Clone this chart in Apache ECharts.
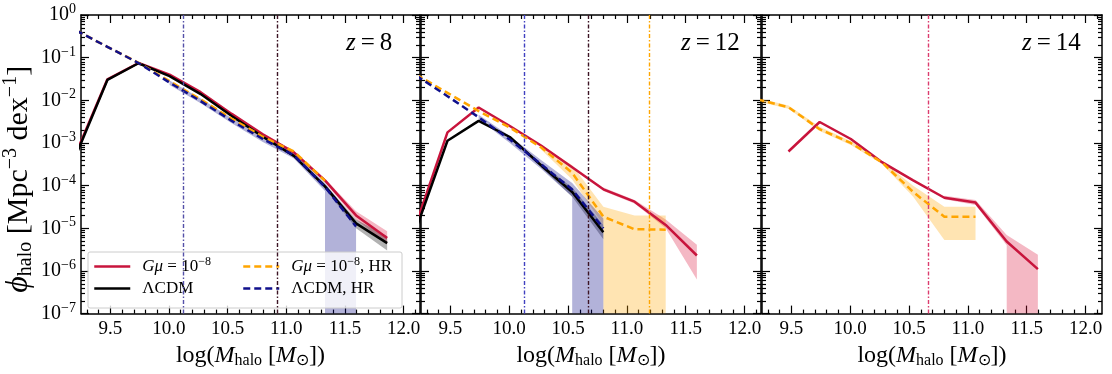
<!DOCTYPE html>
<html>
<head>
<meta charset="utf-8">
<script src="https://cdn.jsdelivr.net/npm/echarts@6/dist/echarts.min.js"></script>
<style>
html, body { margin: 0; padding: 0; background: #fff; }
#main { width: 1112px; height: 374px; }
</style>
</head>
<body>
<div id="main"></div>
<script>
// halo mass bins, log(M_halo [M_sun])
var bins = [9.21, 9.475, 9.74, 10.005, 10.27, 10.535, 10.80, 11.065, 11.33, 11.595, 11.86];

// z = 8
var gmu8      = [6.0e-4, 0.031, 0.075, 0.040, 0.0155, 0.0048, 0.0016, 6.0e-4, 1.33e-4, 2.0e-5, 5.9e-6];
var lcdm8     = [5.4e-4, 0.030, 0.074, 0.037, 0.0140, 0.0043, 0.0014, 5.0e-4, 9.6e-5, 1.3e-5, 4.5e-6];
var gmuHR8    = [0.43, 0.18, 0.076, 0.028, 0.0105, 0.0037, 0.0014, 6.3e-4, 1.3e-4, null, null];
var lcdmHR8   = [0.43, 0.18, 0.075, 0.026, 0.0096, 0.0033, 0.00124, 5.1e-4, 9.3e-5, 1.1e-5, null];
var gmu8Lo    = [null, null, null, null, null, null, 1.5e-3, 5.5e-4, 1.2e-4, 1.6e-5, 4.3e-6];
var gmu8Hi    = [null, null, null, null, null, null, 1.7e-3, 6.5e-4, 1.45e-4, 2.5e-5, 8.5e-6];
var lcdm8Lo   = [null, null, null, null, null, null, 1.3e-3, 4.6e-4, 8.5e-5, 1.0e-5, 3.0e-6];
var lcdm8Hi   = [null, null, null, null, null, null, 1.5e-3, 5.4e-4, 1.08e-4, 1.6e-5, 6.5e-6];
var lcdmHR8Lo = [null, null, null, 0.023, 8.5e-3, 2.9e-3, 1.05e-3, 4.3e-4, 7.5e-5, 0, null];
var lcdmHR8Hi = [null, null, null, 0.029, 0.011, 3.8e-3, 1.45e-3, 6.0e-4, 1.15e-4, 1.4e-5, null];
var vlines8   = [10.12, 10.92];

// z = 12
var gmu12      = [1.3e-5, 1.77e-3, 6.8e-3, 2.5e-3, 8.7e-4, 2.7e-4, 8.2e-5, 4.2e-5, 1.2e-5, 2.3e-6, null];
var lcdm12     = [1.0e-5, 1.13e-3, 3.3e-3, 1.38e-3, 3.0e-4, 7.1e-5, 8.1e-6, null, null, null, null];
var gmuHR12    = [0.040, 0.015, 5.6e-3, 2.3e-3, 7.9e-4, 2.0e-4, 1.87e-5, 9.5e-6, 9.3e-6, null, null];
var lcdmHR12   = [0.038, 0.0125, 4.0e-3, 1.2e-3, 3.2e-4, 8.1e-5, 1.0e-5, null, null, null, null];
var gmu12Lo    = [null, null, null, null, null, null, 7.5e-5, 3.8e-5, 1.0e-5, 6.3e-7, null];
var gmu12Hi    = [null, null, null, null, null, null, 9.0e-5, 4.6e-5, 1.6e-5, 4.1e-6, null];
var lcdm12Lo   = [null, null, null, null, 2.7e-4, 5.5e-5, 5.5e-6, null, null, null, null];
var lcdm12Hi   = [null, null, null, null, 3.3e-4, 9.0e-5, 1.2e-5, null, null, null, null];
var gmuHR12Lo  = [null, null, null, null, 7.0e-4, 1.4e-4, 1.2e-5, 0, 0, null, null];
var gmuHR12Hi  = [null, null, null, null, 8.8e-4, 3.0e-4, 3.2e-5, 2.0e-5, 2.0e-5, null, null];
var lcdmHR12Lo = [null, null, 3.6e-3, 1.0e-3, 2.5e-4, 5.5e-5, 0, null, null, null, null];
var lcdmHR12Hi = [null, null, 4.6e-3, 1.45e-3, 4.0e-4, 1.15e-4, 1.7e-5, null, null, null, null];
var vlines12   = [10.13, 10.67, 11.19];

// z = 14
var gmu14     = [null, 6.3e-4, 3.1e-3, 1.24e-3, 3.55e-4, 1.33e-4, 5.2e-5, 4.0e-5, 4.9e-6, 1.1e-6, null];
var gmuHR14   = [0.0105, 6.9e-3, 2.1e-3, 1.0e-3, 3.5e-4, 7.1e-5, 1.86e-5, 1.86e-5, null, null, null];
var gmu14Lo   = [null, null, null, null, null, null, 4.8e-5, 3.5e-5, 4.0e-6, 0, null];
var gmu14Hi   = [null, null, null, null, null, null, 5.8e-5, 4.6e-5, 7.0e-6, 2.4e-6, null];
var gmuHR14Lo = [0.0095, 6.3e-3, 1.9e-3, 9.0e-4, 3.2e-4, 5.5e-5, 5.3e-6, 5.3e-6, null, null, null];
var gmuHR14Hi = [0.0115, 7.6e-3, 2.4e-3, 1.1e-3, 3.8e-4, 1.0e-4, 3.2e-5, 3.2e-5, null, null, null];
var vlines14  = [10.66];

var zLabels = ['8', '12', '14'];
var xTicks = [9.5, 10.0, 10.5, 11.0, 11.5, 12.0];
var names = ['Gμ = 10^-8', 'ΛCDM', 'Gμ = 10^-8, HR', 'ΛCDM, HR'];

var FONT = 'Liberation Serif';
var RED = '#c8143c', BLACK = '#000000', ORANGE = '#ffa500', NAVY = '#10108c';
var RED_F = 'rgba(220,20,60,0.3)', BLACK_F = 'rgba(0,0,0,0.3)', ORANGE_F = 'rgba(255,165,0,0.3)', NAVY_F = 'rgba(0,0,128,0.3)';
var X_MIN = 9.25, X_MAX = 12.14;
var lefts = [80, 421, 762];

var xMinor = [];
for (var t = 93; t <= 121; t++) { if (t % 5) xMinor.push(t / 10); }
var yMinor = [];
for (var k = -7; k < 0; k++) {
    for (var m = 2; m <= 9; m++) yMinor.push(m * Math.pow(10, k));
}

var rt = function (size, extra) {
    var o = {fontFamily: FONT, fontSize: size, color: '#000', fontWeight: 'normal'};
    for (var key in extra) o[key] = extra[key];
    return o;
};

var grids = [], xAxes = [], yAxes = [], series = [], titles = [];

function addAxes(g) {
    var tickStyle = {color: '#000', width: 1.2};
    var lineStyle = {color: '#000', width: 1.5};
    var baseX = {type: 'value', gridIndex: g, min: X_MIN, max: X_MAX, splitLine: {show: false}};
    xAxes.push(Object.assign({}, baseX, {
        position: 'bottom',
        axisLine: {show: true, onZero: false, lineStyle: lineStyle},
        axisTick: {inside: true, length: 8, customValues: xTicks, lineStyle: tickStyle},
        axisLabel: {customValues: xTicks, margin: 6, fontFamily: FONT, fontSize: 19, color: '#000',
            formatter: function (v) { return v.toFixed(1); }},
        name: '{n|log(}{i|M}{sub|halo}{n| [}{i|M}{sub|⊙}{n|])}',
        nameLocation: 'middle', nameGap: 22,
        nameTextStyle: {rich: {
            n: rt(24), i: rt(24, {fontStyle: 'italic'}), sub: rt(16, {padding: [11, 0, 0, 0]})
        }}
    }));
    xAxes.push(Object.assign({}, baseX, {
        position: 'bottom', axisLine: {show: false, onZero: false},
        axisTick: {inside: true, length: 4, customValues: xMinor, lineStyle: tickStyle},
        axisLabel: {show: false}
    }));
    xAxes.push(Object.assign({}, baseX, {
        position: 'top', axisLine: {show: true, onZero: false, lineStyle: lineStyle},
        axisTick: {inside: true, length: 8, customValues: xTicks, lineStyle: tickStyle},
        axisLabel: {show: false}
    }));
    xAxes.push(Object.assign({}, baseX, {
        position: 'top', axisLine: {show: false, onZero: false},
        axisTick: {inside: true, length: 4, customValues: xMinor, lineStyle: tickStyle},
        axisLabel: {show: false}
    }));

    var baseY = {type: 'log', logBase: 10, gridIndex: g, min: 1e-7, max: 1, splitLine: {show: false}};
    var left = Object.assign({}, baseY, {
        position: 'left', axisLine: {show: true, onZero: false, lineStyle: lineStyle},
        axisTick: {inside: true, length: 8, lineStyle: tickStyle},
        axisLabel: {show: g === 0, margin: 5,
            formatter: function (v) {
                var e = Math.round(Math.log10(v));
                return '{b|10}{s|' + (e < 0 ? '\u2212' + (-e) : e) + '}';
            },
            rich: {b: rt(20), s: rt(14, {padding: [0, 0, 11, 0]})}}
    });
    if (g === 0) {
        left.name = '{i|ϕ}{sub|halo}{n| [Mpc}{sup|\u22123}{n| dex}{sup|\u22121}{n|]}';
        left.nameLocation = 'middle';
        left.nameGap = 44;
        left.nameTextStyle = {padding: [0, 30, 0, 0], rich: {
            n: rt(30), i: rt(32, {fontStyle: 'italic'}),
            sub: rt(20, {padding: [13, 0, 0, 0]}), sup: rt(20, {padding: [0, 0, 16, 0]})
        }};
    }
    yAxes.push(left);
    yAxes.push(Object.assign({}, baseY, {
        position: 'left', axisLine: {show: false, onZero: false},
        axisTick: {inside: true, length: 4, customValues: yMinor, lineStyle: tickStyle},
        axisLabel: {show: false}
    }));
    yAxes.push(Object.assign({}, baseY, {
        position: 'right', axisLine: {show: true, onZero: false, lineStyle: lineStyle},
        axisTick: {inside: true, length: 8, lineStyle: tickStyle},
        axisLabel: {show: false}
    }));
    yAxes.push(Object.assign({}, baseY, {
        position: 'right', axisLine: {show: false, onZero: false},
        axisTick: {inside: true, length: 4, customValues: yMinor, lineStyle: tickStyle},
        axisLabel: {show: false}
    }));
}

function lineSeries(g, name, vals, color, dashed, vlines, vcolors) {
    var data = [];
    vals.forEach(function (v, i) { if (v != null) data.push([bins[i], v]); });
    var s = {
        name: name, type: 'line', xAxisIndex: 4 * g, yAxisIndex: 4 * g, data: data,
        symbol: 'none', showSymbol: false, clip: true, z: 3, silent: true, animation: false,
        lineStyle: {color: color, width: 2.5, type: dashed ? [7, 4] : 'solid'},
        itemStyle: {color: color}
    };
    if (vlines) {
        s.markLine = {
            silent: true, symbol: ['none', 'none'], label: {show: false}, animation: false,
            data: vlines.map(function (v, i) {
                return {xAxis: v, lineStyle: {color: vcolors[i], width: 1.4, type: [4, 2, 1.5, 2]}};
            })
        };
    }
    return s;
}

// shaded error band; a zero lower bound runs off the bottom of the log axis
function bandSeries(g, lo, hi, fill) {
    var rows = [];
    lo.forEach(function (l, i) {
        if (l != null && hi[i] != null) rows.push([bins[i], l, hi[i]]);
    });
    return {
        type: 'custom', xAxisIndex: 4 * g, yAxisIndex: 4 * g, silent: true, z: 2, clip: true,
        animation: false, data: rows.map(function (r) { return [r[0], r[1] > 0 ? r[1] : 1e-7, r[2]]; }),
        encode: {x: 0, y: [1, 2]},
        renderItem: function (params, api) {
            if (params.dataIndex !== 0) return;
            var cs = params.coordSys;
            var bottom = cs.y + cs.height + 3;
            var top = [], bot = [];
            rows.forEach(function (r, i) {
                top.push(api.coord([r[0], r[2]]));
                if (r[1] > 0) {
                    bot.push(api.coord([r[0], r[1]]));
                } else {
                    if (i > 0) bot.push([api.coord([rows[i - 1][0], 1e-7])[0], bottom]);
                    bot.push([api.coord([r[0], 1e-7])[0], bottom]);
                    if (i < rows.length - 1) bot.push([api.coord([rows[i + 1][0], 1e-7])[0], bottom]);
                }
            });
            return {
                type: 'group',
                clipPath: {type: 'rect', shape: {x: cs.x, y: cs.y, width: cs.width, height: cs.height}},
                children: [{type: 'polygon', shape: {points: top.concat(bot.reverse())}, style: {fill: fill}}]
            };
        }
    };
}

for (var g = 0; g < 3; g++) {
    grids.push({left: lefts[g], top: 15, width: 340, height: 301});
    addAxes(g);
    titles.push({
        text: '{i|z}{n|\u2009=\u2009' + zLabels[g] + '}',
        left: lefts[g] + (g === 0 ? 266 : 260), top: 31, padding: 0,
        textStyle: {fontWeight: 'normal', rich: {i: rt(25, {fontStyle: 'italic'}), n: rt(25)}}
    });
}

// z = 8
series.push(bandSeries(0, gmu8Lo, gmu8Hi, RED_F));
series.push(bandSeries(0, lcdm8Lo, lcdm8Hi, BLACK_F));
series.push(bandSeries(0, lcdmHR8Lo, lcdmHR8Hi, NAVY_F));
series.push(lineSeries(0, names[0], gmu8, RED, false, vlines8, ['#5450a8', '#3c1424']));
series.push(lineSeries(0, names[1], lcdm8, BLACK, false));
series.push(lineSeries(0, names[2], gmuHR8, ORANGE, true));
series.push(lineSeries(0, names[3], lcdmHR8, NAVY, true));
// z = 12
series.push(bandSeries(1, gmu12Lo, gmu12Hi, RED_F));
series.push(bandSeries(1, lcdm12Lo, lcdm12Hi, BLACK_F));
series.push(bandSeries(1, gmuHR12Lo, gmuHR12Hi, ORANGE_F));
series.push(bandSeries(1, lcdmHR12Lo, lcdmHR12Hi, NAVY_F));
series.push(lineSeries(1, names[0], gmu12, RED, false, vlines12, ['#4040c0', '#3c1424', '#ffa500']));
series.push(lineSeries(1, names[1], lcdm12, BLACK, false));
series.push(lineSeries(1, names[2], gmuHR12, ORANGE, true));
series.push(lineSeries(1, names[3], lcdmHR12, NAVY, true));
// z = 14
series.push(bandSeries(2, gmu14Lo, gmu14Hi, RED_F));
series.push(bandSeries(2, gmuHR14Lo, gmuHR14Hi, ORANGE_F));
series.push(lineSeries(2, names[0], gmu14, RED, false, vlines14, ['#dc3c6e']));
series.push(lineSeries(2, names[2], gmuHR14, ORANGE, true));

var legendRich = {
    n: rt(17), i: rt(17, {fontStyle: 'italic'}), s: rt(12, {padding: [0, 0, 9, 0]}), sp: rt(17, {width: 7})
};
function legendFmt(name) {
    var map = {};
    map[names[0]] = '{sp| }{i|Gμ}{n| = 10}{s|\u22128}';
    map[names[1]] = '{sp| }{n|ΛCDM}';
    map[names[2]] = '{sp| }{i|Gμ}{n| = 10}{s|\u22128}{n|, HR}';
    map[names[3]] = '{sp| }{n|ΛCDM, HR}';
    return map[name];
}
var legendBase = {
    orient: 'vertical', top: 256, itemGap: 5, itemWidth: 36, itemHeight: 14, padding: 0,
    itemStyle: {opacity: 0}, lineStyle: {width: 2.5},
    formatter: legendFmt, textStyle: {rich: legendRich}, selectedMode: false
};

var myChart = echarts.init(document.getElementById('main'));
var option = {
    backgroundColor: '#fff',
    animation: false,
    title: titles,
    grid: grids,
    xAxis: xAxes,
    yAxis: yAxes,
    legend: [
        Object.assign({}, legendBase, {left: 93, data: [names[0], names[1]]}),
        Object.assign({}, legendBase, {left: 242, data: [names[2], names[3]]})
    ],
    graphic: [{
        type: 'rect', z: 3, silent: true,
        shape: {x: 88, y: 252, width: 314, height: 56, r: 2},
        style: {fill: 'rgba(255,255,255,0.8)', stroke: '#cccccc', lineWidth: 1}
    }],
    series: series
};
myChart.setOption(option);
</script>
</body>
</html>
